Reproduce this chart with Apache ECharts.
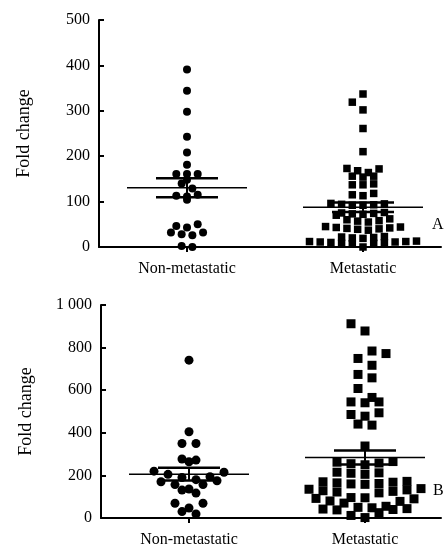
<!DOCTYPE html>
<html><head><meta charset="utf-8">
<script src="https://cdn.jsdelivr.net/npm/echarts@6/dist/echarts.min.js"></script>
<style>html,body{margin:0;padding:0;background:#fff}#c{width:444px;height:545px}</style>
</head><body><div id="c"></div>
<script>
const categories = ['Non-metastatic', 'Metastatic'];
const yTicksA = ['0', '100', '200', '300', '400', '500'];
const yTicksB = ['0', '200', '400', '600', '800', '1 000'];
const panelLetters = ['A', 'B'];

// Panel A values (fold change)
const nonMetA = [391,344,298,243,208,181,161,161,161,148,140,129,115,113,111,104,50,46,43,32,32,28,26,2,0];
const metA = [337,319,302,261,210,173,168,156,156,154,164,172,137,139,137,118,113,115,96,94,93,92,95,92,
  76,75,73,72,74,70,62,60,58,57,55,45,37,44,40,42,41,43,39,23,21,22,20,19,12,10,8,11,9,13,7,11,8,12,0];
// Panel B values (fold change)
const nonMetB = [741,405,350,350,277,272,264,220,215,205,194,190,180,175,170,157,157,136,131,117,69,69,47,30,19];
const metB = [912,878,784,772,749,717,674,658,608,566,545,545,541,494,486,478,441,436,338,
  265,258,255,250,262,215,210,205,212,170,165,160,168,162,158,172,135,128,132,125,138,122,118,
  92,90,96,80,95,78,70,50,48,42,44,40,38,55,25,12,2];

const FONT = 'Liberation Serif';
const pxPerX = 176;            // pixels per category unit
const gA = {left: 99, top: 20, width: 342, height: 227, max: 500};
const gB = {left: 101, top: 305, width: 340, height: 213, max: 1000};

// GraphPad-like row binning: points in one row are spread symmetrically;
// a row is nudged sideways when it would sit on top of a neighbouring row.
function swarm(values, center, pxPerY, colPx, rowPx, size) {
  const rows = {};
  values.slice().sort((a, b) => a - b).forEach(v => {
    const r = Math.floor(v * pxPerY / rowPx);
    (rows[r] || (rows[r] = [])).push(v);
  });
  const placed = [];
  const out = [];
  Object.keys(rows).map(Number).sort((a, b) => a - b).forEach(r => {
    const list = rows[r], n = list.length;
    const order = [];
    list.forEach((v, i) => { if (i % 2 === 0) order.push(v); else order.unshift(v); });
    const pts = order.map((v, i) => [(i - (n - 1) / 2) * colPx, v * pxPerY, v]);
    let best = 0;
    for (const s of [0, -1, 1, -0.5, 0.5]) {
      const ok = pts.every(p => placed.every(q =>
        Math.abs(p[0] + s * colPx - q[0]) >= colPx * 0.8 || Math.abs(p[1] - q[1]) >= size * 1.1));
      if (ok) { best = s; break; }
    }
    pts.forEach(p => {
      placed.push([p[0] + best * colPx, p[1]]);
      out.push([center + (p[0] + best * colPx) / pxPerX, p[2]]);
    });
  });
  return out;
}
function stats(values) {
  const n = values.length;
  const m = values.reduce((a, b) => a + b, 0) / n;
  const sd = Math.sqrt(values.reduce((a, b) => a + (b - m) * (b - m), 0) / (n - 1));
  return {m, sem: sd / Math.sqrt(n)};
}
function errSeries(values, center, xi, yi) {
  const s = stats(values);
  const wM = 60 / pxPerX, wS = 31 / pxPerX;
  const base = {type: 'line', xAxisIndex: xi, yAxisIndex: yi, symbol: 'none', silent: true, z: 5};
  return [
    Object.assign({}, base, {data: [[center - wM, s.m], [center + wM, s.m]], lineStyle: {color: '#000', width: 1.5}}),
    Object.assign({}, base, {data: [[center - wS, s.m + s.sem], [center + wS, s.m + s.sem]], lineStyle: {color: '#000', width: 2.5}}),
    Object.assign({}, base, {data: [[center - wS, s.m - s.sem], [center + wS, s.m - s.sem]], lineStyle: {color: '#000', width: 2.5}}),
    Object.assign({}, base, {data: [[center, s.m - s.sem], [center, s.m + s.sem]], lineStyle: {color: '#000', width: 2}})
  ];
}

const pyA = gA.height / gA.max, pyB = gB.height / gB.max;

function xAx(gi, g) {
  const min = -88 / pxPerX;
  return {type: 'value', gridIndex: gi, min: min, max: min + g.width / pxPerX,
    splitLine: {show: false},
    axisLine: {onZero: false, lineStyle: {color: '#000', width: 2}},
    axisTick: {customValues: [0, 1], length: 5, lineStyle: {color: '#000', width: 2}},
    axisLabel: {customValues: [0, 1], margin: 14, color: '#000', fontFamily: FONT, fontSize: 16,
      formatter: v => categories[Math.round(v)]}};
}
function yAx(gi, g, ticks, interval) {
  return {type: 'value', gridIndex: gi, min: 0, max: g.max, interval: interval,
    name: 'Fold change', nameLocation: 'middle', nameGap: 66,
    nameTextStyle: {color: '#000', fontFamily: FONT, fontSize: 18},
    splitLine: {show: false},
    axisLine: {onZero: false, lineStyle: {color: '#000', width: 2}},
    axisTick: {inside: true, length: 5, lineStyle: {color: '#000', width: 2}},
    axisLabel: {margin: 9, color: '#000', fontFamily: FONT, fontSize: 16,
      formatter: v => ticks[Math.round(v / interval)]}};
}
const dot = {color: '#000', opacity: 1};
const option = {
  animation: false,
  backgroundColor: '#fff',
  grid: [
    {left: gA.left, top: gA.top, width: gA.width, height: gA.height, outerBoundsMode: 'none'},
    {left: gB.left, top: gB.top, width: gB.width, height: gB.height, outerBoundsMode: 'none'}
  ],
  xAxis: [xAx(0, gA), xAx(1, gB)],
  yAxis: [yAx(0, gA, yTicksA, 100), yAx(1, gB, yTicksB, 200)],
  graphic: [
    {type: 'text', left: 432, top: 217, style: {text: panelLetters[0], fill: '#000', font: '16px "Liberation Serif"'}},
    {type: 'text', left: 433, top: 483, style: {text: panelLetters[1], fill: '#000', font: '16px "Liberation Serif"'}}
  ],
  series: [
    {type: 'scatter', xAxisIndex: 0, yAxisIndex: 0, symbol: 'circle', symbolSize: 8, itemStyle: dot,
      data: swarm(nonMetA, 0, pyA, 10.7, 8, 8)},
    {type: 'scatter', xAxisIndex: 0, yAxisIndex: 0, symbol: 'rect', symbolSize: 7.5, itemStyle: dot,
      data: swarm(metA, 1, pyA, 10.7, 8, 7.5)},
    {type: 'scatter', xAxisIndex: 1, yAxisIndex: 1, symbol: 'circle', symbolSize: 9, itemStyle: dot,
      data: swarm(nonMetB, 0, pyB, 14, 9.5, 9)},
    {type: 'scatter', xAxisIndex: 1, yAxisIndex: 1, symbol: 'rect', symbolSize: 9, itemStyle: dot,
      data: swarm(metB, 1, pyB, 14, 10, 9)}
  ].concat(errSeries(nonMetA, 0, 0, 0), errSeries(metA, 1, 0, 0), errSeries(nonMetB, 0, 1, 1), errSeries(metB, 1, 1, 1))
};
const chart = echarts.init(document.getElementById('c'), null, {renderer: 'canvas'});
chart.setOption(option);
</script></body></html>
